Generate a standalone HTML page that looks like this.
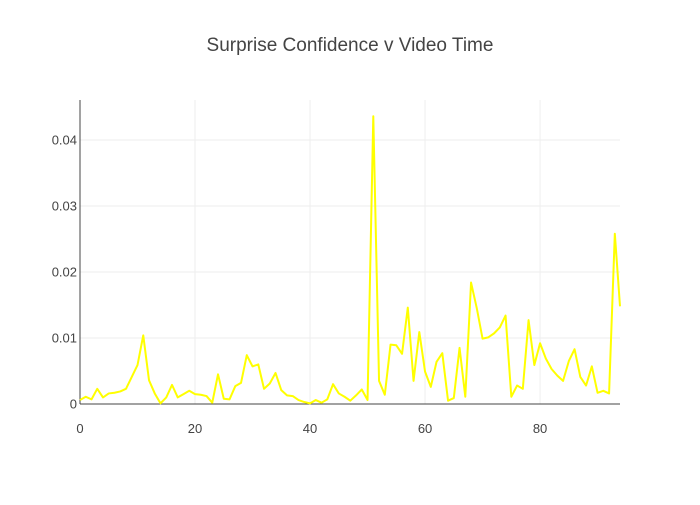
<!DOCTYPE html>
<html><head><meta charset="utf-8"><style>
body{margin:0;background:#fff;}
svg{font-family:"Liberation Sans",sans-serif;}
</style></head><body>
<svg id="chart" width="700" height="500">
<text x="350" y="51" text-anchor="middle" font-size="19" fill="#444">Surprise Confidence v Video Time</text>
<g id="grid"></g><g id="ticks"></g>
<line x1="80" y1="100" x2="80" y2="404" stroke="#444" stroke-width="1"/>
<line x1="80" y1="404" x2="620" y2="404" stroke="#444" stroke-width="1"/>
<g id="series"></g>
</svg>
<script>
const values = [0.0006,0.0011,0.0007,0.0023,0.001,0.0016,0.0017,0.0019,0.0023,0.0041,0.0059,0.0104,0.0036,0.0016,0.0001,0.001,0.0029,0.001,0.0015,0.002,0.0015,0.0014,0.0012,0.0002,0.0045,0.0008,0.0007,0.0027,0.0032,0.0074,0.0057,0.006,0.0023,0.0031,0.0047,0.0021,0.0013,0.0012,0.0006,0.0003,0.0001,0.0006,0.0002,0.0007,0.003,0.0016,0.0011,0.0005,0.0013,0.0022,0.0006,0.0436,0.0035,0.0014,0.009,0.0089,0.0076,0.0146,0.0035,0.0109,0.0049,0.0026,0.0064,0.0077,0.0005,0.0009,0.0085,0.0011,0.0184,0.0145,0.0099,0.0101,0.0107,0.0116,0.0134,0.0011,0.0028,0.0023,0.0127,0.0059,0.0092,0.0069,0.0053,0.0043,0.0035,0.0065,0.0083,0.0041,0.0028,0.0057,0.0017,0.002,0.0016,0.0258,0.0148];
const xTicks = [0,20,40,60,80];
const yTicks = [0,0.01,0.02,0.03,0.04];
const yTickLabels = ["0","0.01","0.02","0.03","0.04"];
const X0=80,X1=620,Y0=404,Y1=100,XMAX=93.9,YMAX=0.04606;
const sx=v=>X0+(v/XMAX)*(X1-X0);
const sy=v=>Y0-(v/YMAX)*(Y0-Y1);
const NS="http://www.w3.org/2000/svg";
const grid=document.getElementById('grid'),ticks=document.getElementById('ticks'),series=document.getElementById('series');
xTicks.forEach(t=>{
  if(t>0){const l=document.createElementNS(NS,'line');
  l.setAttribute('x1',sx(t));l.setAttribute('x2',sx(t));l.setAttribute('y1',Y1);l.setAttribute('y2',Y0);
  l.setAttribute('stroke','#eee');
  
  
  grid.appendChild(l);}
  const tx=document.createElementNS(NS,'text');
  tx.setAttribute('x',sx(t));tx.setAttribute('y',433);tx.setAttribute('text-anchor','middle');
  tx.setAttribute('font-size','13');tx.setAttribute('fill','#444');tx.textContent=t;
  
  
  ticks.appendChild(tx);
});
yTicks.forEach((t,i)=>{
  if(t>0){const l=document.createElementNS(NS,'line');
  l.setAttribute('x1',X0);l.setAttribute('x2',X1);l.setAttribute('y1',sy(t));l.setAttribute('y2',sy(t));
  l.setAttribute('stroke','#eee');
  
  
  grid.appendChild(l);}
  const tx=document.createElementNS(NS,'text');
  tx.setAttribute('x',77);tx.setAttribute('y',sy(t)+4.5);tx.setAttribute('text-anchor','end');
  tx.setAttribute('font-size','13');tx.setAttribute('fill','#444');tx.textContent=yTickLabels[i];
  
  
  ticks.appendChild(tx);
});
const p=document.createElementNS(NS,'polyline');
p.setAttribute('points',values.map((v,i)=>Math.min(sx(i),X1)+','+sy(v)).join(' '));
p.setAttribute('fill','none');p.setAttribute('stroke','#ffff00');p.setAttribute('stroke-width','2');
p.setAttribute('stroke-linejoin','round');


series.appendChild(p);
</script>
</body></html>
